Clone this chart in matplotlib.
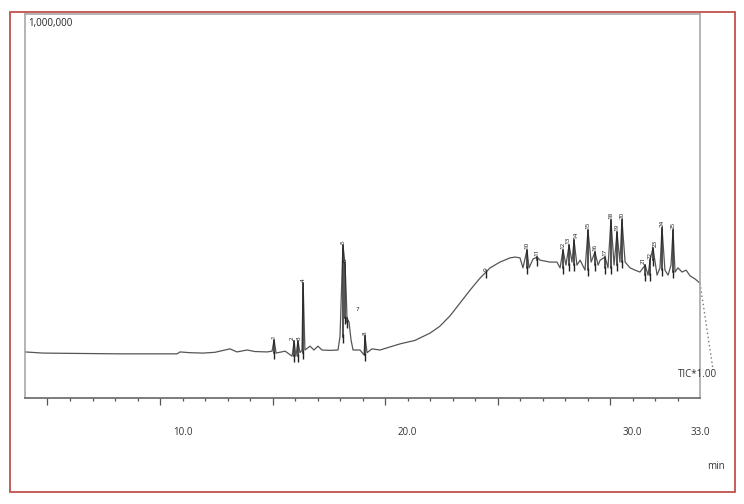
import numpy as np
import matplotlib
matplotlib.use("Agg")
import matplotlib.pyplot as plt
from matplotlib.patches import Rectangle

plt.rcParams['font.family'] = ['Open Sans', 'DejaVu Sans']

# retention time (min) and TIC intensity
rt = [3.00, 3.80, 5.44, 7.22, 8.56, 9.76, 9.89, 10.33, 10.91, 11.44, 12.11, 12.42,
      12.87, 13.22, 13.76, 13.98, 14.07, 14.16, 14.56, 14.87, 14.96, 15.04, 15.13,
      15.22, 15.31, 15.36, 15.44, 15.67, 15.84, 16.02, 16.20, 16.56, 16.91, 17.00,
      17.13, 17.22, 17.27, 17.31, 17.40, 17.49, 17.58, 17.89, 18.07, 18.11, 18.20,
      18.42, 18.78, 19.22, 19.67, 20.33, 21.00, 21.44, 21.89, 22.33, 22.78, 23.22,
      23.49, 23.67, 24.11, 24.56, 24.78, 25.00, 25.13, 25.31, 25.40, 25.58, 25.76,
      25.89, 26.33, 26.64, 26.78, 26.91, 27.04, 27.18, 27.31, 27.40, 27.53, 27.67,
      27.89, 28.02, 28.16, 28.33, 28.47, 28.56, 28.78, 28.91, 29.04, 29.18, 29.31,
      29.44, 29.53, 29.67, 29.89, 30.11, 30.33, 30.56, 30.69, 30.78, 30.91, 31.09,
      31.22, 31.31, 31.44, 31.58, 31.71, 31.80, 31.89, 32.02, 32.20, 32.38, 32.56,
      32.78, 33.00]
tic = [120000, 117000, 116000, 115000, 115000, 115000, 120000, 118000, 117000, 119000,
       128000, 120000, 125000, 121000, 120000, 122000, 151000, 117000, 122000, 109000,
       148000, 109000, 148000, 118000, 125000, 299000, 125000, 135000, 125000, 135000,
       125000, 124000, 125000, 160000, 398000, 352000, 281000, 208000, 198000, 151000,
       125000, 125000, 112000, 161000, 118000, 128000, 125000, 133000, 141000, 150000,
       169000, 187000, 214000, 247000, 281000, 312000, 328000, 339000, 354000, 365000,
       367000, 365000, 339000, 385000, 339000, 362000, 367000, 359000, 354000, 354000,
       339000, 385000, 346000, 398000, 354000, 411000, 346000, 359000, 333000, 437000,
       354000, 380000, 346000, 359000, 367000, 339000, 464000, 346000, 432000, 354000,
       464000, 354000, 339000, 333000, 328000, 346000, 320000, 359000, 391000, 320000,
       339000, 443000, 333000, 320000, 346000, 437000, 328000, 339000, 328000, 333000,
       318000, 310000, 299000]

# dotted tail after the end of the run
tail_rt = [33.00, 33.58]
tail_tic = [299000, 73000]

peak_ids = [1, 2, 3, 4, 5, 6, 7, 8, 9, 10, 11, 12, 13, 14, 15, 16, 17, 18, 19, 20,
            21, 22, 23, 24, 25]
peak_rt = [14.07, 14.96, 15.13, 15.36, 17.13, 17.22, 17.31, 18.11, 23.49, 25.31,
           25.76, 26.91, 27.18, 27.40, 28.02, 28.33, 28.78, 29.04, 29.31, 29.53,
           30.56, 30.78, 30.91, 31.31, 31.80]

xtick_labels = [10.0, 20.0, 30.0, 33.0]
major_ticks = [4, 9, 14, 19, 24, 29]

# small sideways nudges (min) so crowded peak numbers stay readable
nudge = {2: -0.07, 3: 0.07, 13: -0.05, 14: 0.07, 21: -0.07, 22: 0.02, 23: 0.08}

fig = plt.figure(figsize=(7.44, 5.04), dpi=100)
fig.patches.append(Rectangle((0.0134, 0.0238), 0.9745, 0.952, transform=fig.transFigure,
                             fill=False, edgecolor='#c0504d', lw=1.3))
ax = fig.add_axes([0.0336, 0.2103, 0.9073, 0.7619])

ax.plot(rt, tic, color='#555555', lw=0.9)
ax.plot(tail_rt, tail_tic, color='#777777', lw=1.0, ls=(0, (1, 2)), clip_on=False)

rt_arr = np.array(rt)
tic_arr = np.array(tic)
for pid, t in zip(peak_ids, peak_rt):
    h = np.interp(t, rt, tic)
    # integration marks under each peak
    near = np.abs(rt_arr - t) <= 0.16
    base = tic_arr[near].min()
    ax.vlines(t, base - 16000, base + 6000, color='#222222', lw=1.0)
    ax.plot([t, t], [base, h], color='#222222', lw=1.1)
    if pid == 7:
        ax.text(t + 0.45, h + 15000, str(pid), fontsize=4.5, color='#111111',
                ha='center', va='bottom')
    else:
        ax.text(t + nudge.get(pid, 0), h + 3000, str(pid), fontsize=4.5, color='#111111',
                rotation=90, ha='center', va='bottom')

ax.set_xlim(3.0, 33.0)
ax.set_ylim(0, 1000000)
ax.set_yticks([])
ax.set_xticks(major_ticks)
ax.set_xticks([m for m in range(4, 33) if m not in major_ticks], minor=True)
ax.set_xticklabels([])
ax.tick_params(axis='x', which='major', direction='out', length=5, width=0.9, color='#555555')
ax.tick_params(axis='x', which='minor', direction='out', length=2.5, width=0.9, color='#555555')

for s in ['left', 'top', 'right']:
    ax.spines[s].set_color('#a8a8a8')
    ax.spines[s].set_linewidth(1.2)
ax.spines['bottom'].set_color('#666666')
ax.spines['bottom'].set_linewidth(1.2)

for v in xtick_labels:
    ax.text(v, -0.091, f'{v:.1f}', transform=ax.get_xaxis_transform(), fontsize=7,
            color='#333333', ha='center', va='center')

ax.text(0.005, 0.975, '1,000,000', transform=ax.transAxes, fontsize=7, color='#222222',
        ha='left', va='center')
ax.text(32.87, 60000, 'TIC*1.00', fontsize=7, color='#333333', ha='center', va='center',
        clip_on=False)
fig.text(0.962, 0.075, 'min', fontsize=7, color='#333333', ha='center', va='center')

fig.savefig('out.png', dpi=100)
